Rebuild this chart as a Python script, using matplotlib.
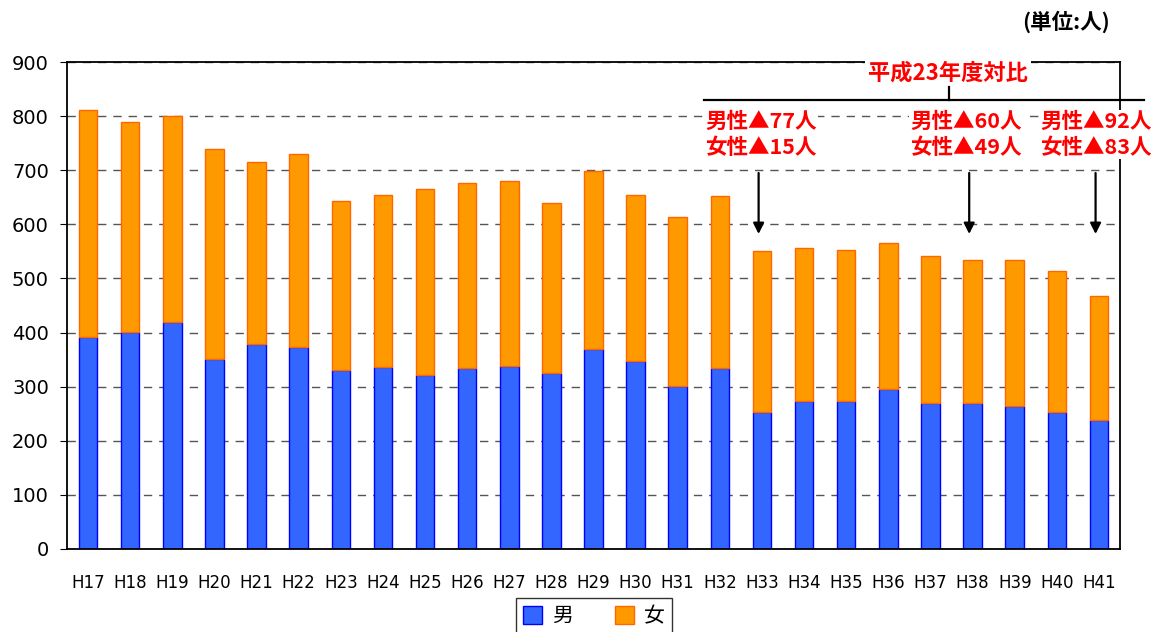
import matplotlib
matplotlib.use("Agg")
import matplotlib.pyplot as plt
from matplotlib import font_manager
from matplotlib.patches import Patch

categories = ["H17", "H18", "H19", "H20", "H21", "H22", "H23", "H24", "H25", "H26",
              "H27", "H28", "H29", "H30", "H31", "H32", "H33", "H34", "H35", "H36",
              "H37", "H38", "H39", "H40", "H41"]
male = [392, 401, 419, 351, 379, 373, 330, 336, 322, 335,
        338, 325, 370, 347, 301, 335, 253, 274, 273, 296,
        270, 270, 264, 253, 238]
female = [420, 388, 382, 389, 337, 357, 313, 319, 344, 341,
          343, 315, 328, 308, 312, 317, 298, 282, 280, 269,
          271, 264, 270, 260, 230]
yticks = [0, 100, 200, 300, 400, 500, 600, 700, 800, 900]

notes = [("H33", "男性▲77人\n女性▲15人"),
         ("H38", "男性▲60人\n女性▲49人"),
         ("H41", "男性▲92人\n女性▲83人")]
note_title = "平成23年度対比"
unit_label = "(単位:人)"

avail = {f.name for f in font_manager.fontManager.ttflist}
narrow = "Liberation Sans Narrow" if "Liberation Sans Narrow" in avail else "DejaVu Sans"
cjk = ["Noto Sans CJK JP", "DejaVu Sans"]
plt.rcParams['font.family'] = cjk

W, H = 1154, 632
fig = plt.figure(figsize=(W / 100, H / 100), dpi=100)
ax = fig.add_axes([67 / W, 1 - 549 / H, (1120 - 67) / W, (549 - 62) / H])

x = list(range(len(categories)))
ax.bar(x, male, width=0.44, color="#3366FF", edgecolor="#0000FF", linewidth=1.0, zorder=2)
ax.bar(x, female, width=0.44, bottom=male, color="#FF9900", edgecolor="#FF6600", linewidth=1.0, zorder=2)

ax.set_xlim(-0.5, len(categories) - 0.5)
ax.set_ylim(0, 900)
ax.set_yticks(yticks)
ax.set_yticklabels([str(v) for v in yticks], fontsize=14, family=[narrow, "DejaVu Sans"])
ax.set_xticks(x)
ax.set_xticklabels(categories, fontsize=12, family=["DejaVu Sans"])
ax.tick_params(axis='x', length=0, pad=18)
ax.tick_params(axis='y', length=5, direction='out', pad=8)
ax.set_axisbelow(True)
ax.yaxis.grid(True, linestyle=(0, (6, 5)), color="#555555", linewidth=1.0)
for s in ax.spines.values():
    s.set_color("black")
    s.set_linewidth(1.3)

red = "#FF0000"


def px2x(px):
    return -0.5 + (px - 67) / ((1120 - 67) / len(categories))


# bracket title
ax.text(px2x(948), 880, note_title, ha="center", va="center", color=red,
        fontsize=16, fontweight="bold",
        bbox=dict(facecolor="white", edgecolor="none", pad=2), zorder=5, clip_on=False)
ax.plot([px2x(704), px2x(1144)], [830, 830], color="black", lw=1.6, clip_on=False, zorder=5)
ax.plot([px2x(949), px2x(949)], [830, 854], color="black", lw=1.6, clip_on=False, zorder=5)

text_left = {"H33": 705, "H38": 910, "H41": 1040}
for cat, txt in notes:
    i = categories.index(cat)
    ax.text(px2x(text_left[cat]), 766, txt, ha="left", va="center", color=red,
            fontsize=15.5, fontweight="bold", linespacing=1.25,
            bbox=dict(facecolor="white", edgecolor="none", pad=1), zorder=5, clip_on=False)
    ax.annotate("", xy=(i - 0.08, 577), xytext=(i - 0.08, 700),
                arrowprops=dict(arrowstyle="-|>", color="black", lw=1.6, mutation_scale=16),
                zorder=5)

fig.text(1110 / W, 1 - 22 / H, unit_label, ha="right", va="center", fontsize=15.5,
         fontweight="bold", color="black")

handles = [Patch(facecolor="#3366FF", edgecolor="#0000FF", label="男"),
           Patch(facecolor="#FF9900", edgecolor="#FF6600", label="女")]
leg = fig.legend(handles=handles, loc="upper center", bbox_to_anchor=(594 / W, 1 - 598 / H),
                 ncol=2, fontsize=15, frameon=True, fancybox=False, edgecolor="black",
                 handlelength=0.9, handleheight=0.9, columnspacing=2.0, borderpad=0.35,
                 handletextpad=0.5, borderaxespad=0)
leg.get_frame().set_linewidth(1.0)

fig.savefig("out.png", dpi=100)
